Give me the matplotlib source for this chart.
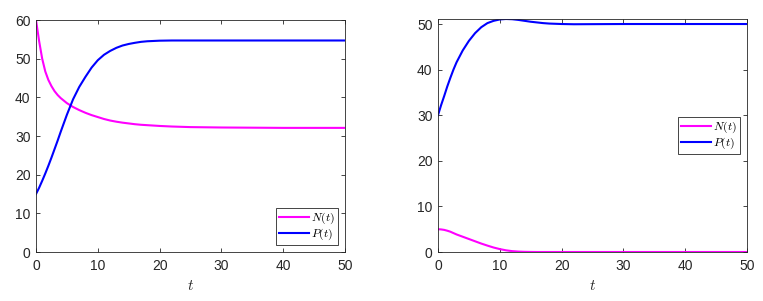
import matplotlib
matplotlib.use("Agg")
import matplotlib.pyplot as plt

plt.rcParams['font.family'] = ['Liberation Sans', 'DejaVu Sans']
plt.rcParams['mathtext.fontset'] = 'cm'

# Left panel data
t1 = [0, 0.5, 1, 1.5, 2, 2.5, 3, 3.5, 4, 5, 6, 7, 8, 9, 10, 11, 12, 13, 14, 15, 16, 17, 18, 20, 22, 25, 30, 35, 40, 50]
N1 = [60, 54.6, 50.0, 46.7, 44.5, 42.9, 41.6, 40.6, 39.8, 38.5, 37.5, 36.7, 36.0, 35.4, 34.9, 34.4, 34.0, 33.7,
      33.45, 33.25, 33.05, 32.9, 32.8, 32.6, 32.45, 32.3, 32.2, 32.15, 32.1, 32.1]
P1 = [15, 16.6, 18.4, 20.3, 22.3, 24.4, 26.6, 28.8, 31.1, 35.5, 39.5, 42.7, 45.3, 47.7, 49.6, 51.0, 52.0, 52.8,
      53.4, 53.8, 54.1, 54.35, 54.5, 54.65, 54.7, 54.7, 54.7, 54.7, 54.7, 54.7]

# Right panel data
t2 = [0, 0.5, 1, 1.5, 2, 2.5, 3, 4, 5, 6, 7, 8, 9, 10, 11, 12, 13, 14, 15, 16, 17, 18, 20, 22, 25, 30, 40, 50]
N2 = [5, 4.95, 4.85, 4.67, 4.45, 4.15, 3.85, 3.35, 2.85, 2.35, 1.85, 1.4, 0.98, 0.64, 0.37, 0.19, 0.09, 0.04,
      0.015, 0.0, 0, 0, 0, 0, 0, 0, 0, 0]
P2 = [30, 32.2, 34.2, 36.3, 38.2, 40.0, 41.6, 44.2, 46.3, 48.0, 49.3, 50.2, 50.7, 51.0, 51.1, 51.05, 50.9, 50.7,
      50.5, 50.35, 50.2, 50.1, 50.0, 49.95, 49.97, 50.0, 50.0, 50.0]

xticks = [0, 10, 20, 30, 40, 50]
yticks1 = [0, 10, 20, 30, 40, 50, 60]
yticks2 = [0, 10, 20, 30, 40, 50]
labels = [r'$N(t)$', r'$P(t)$']

fig = plt.figure(figsize=(7.63, 3.01), dpi=100)
ax1 = fig.add_axes([36/763, 1-252/301, 309/763, 232/301])
ax2 = fig.add_axes([438/763, 1-252/301, 309/763, 233/301])

gray = '#262626'
panels = [(ax1, t1, N1, P1, yticks1, 'lower right'), (ax2, t2, N2, P2, yticks2, 'center right')]
for ax, t, N, P, yt, loc in panels:
    ax.plot(t, N, color=(1, 0, 1), lw=1.5, label=labels[0])
    ax.plot(t, P, color=(0, 0, 1), lw=1.5, label=labels[1])
    ax.set_xlim(0, 50)
    ax.set_ylim(0, max(max(N), max(P)))
    ax.set_xticks(xticks)
    ax.set_yticks(yt)
    ax.tick_params(direction='in', length=3, width=0.6, top=True, right=True,
                   labelsize=10, colors=gray, labelcolor=gray)
    ax.tick_params(axis='x', pad=5)
    ax.tick_params(axis='y', pad=4)
    for s in ax.spines.values():
        s.set_color(gray)
        s.set_linewidth(0.6)
    ax.set_xlabel(r'$t$', fontsize=11, color=gray, labelpad=4)
    leg = ax.legend(loc=loc, fontsize=8.5, frameon=True, fancybox=False, framealpha=1,
                    edgecolor=gray, handlelength=2.5, borderpad=0.25, labelspacing=0.05,
                    handletextpad=0.2, borderaxespad=0.6)
    leg.get_frame().set_linewidth(0.6)

fig.savefig('out.png', dpi=100)
